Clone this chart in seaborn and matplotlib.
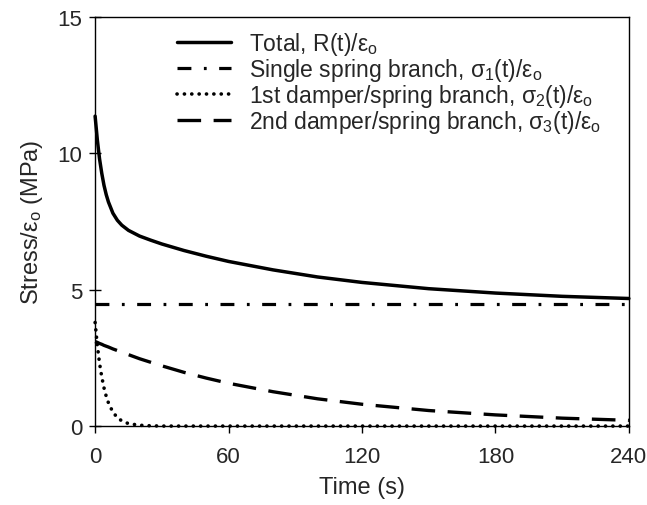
import matplotlib
matplotlib.use("Agg")
import matplotlib.pyplot as plt
import seaborn as sns
import pandas as pd

# ---- data ----
time_s = [0, 1, 2, 3, 4, 5, 6, 8, 10, 12, 15, 20, 25, 30, 40, 50, 60,
          80, 100, 120, 150, 180, 210, 240]
total = [11.37, 10.50, 9.80, 9.27, 8.83, 8.49, 8.22, 7.81, 7.55, 7.37, 7.18,
         6.97, 6.82, 6.68, 6.44, 6.23, 6.04, 5.73, 5.47, 5.27, 5.04, 4.88,
         4.76, 4.68]
spring = [4.47] * len(time_s)
damper1 = [3.80, 2.96, 2.30, 1.80, 1.40, 1.09, 0.85, 0.51, 0.31, 0.19, 0.09,
           0.03, 0.01, 0.00, 0.00, 0.00, 0.00, 0.00, 0.00, 0.00, 0.00, 0.00,
           0.00, 0.00]
damper2 = [3.10, 3.07, 3.03, 3.00, 2.96, 2.93, 2.90, 2.83, 2.77, 2.71, 2.62,
           2.47, 2.34, 2.21, 1.97, 1.76, 1.57, 1.26, 1.00, 0.80, 0.57, 0.41,
           0.29, 0.21]
labels = [
    r"Total, R(t)/$\varepsilon_\mathrm{o}$",
    r"Single spring branch, $\sigma_1$(t)/$\varepsilon_\mathrm{o}$",
    r"1st damper/spring branch, $\sigma_2$(t)/$\varepsilon_\mathrm{o}$",
    r"2nd damper/spring branch, $\sigma_3$(t)/$\varepsilon_\mathrm{o}$",
]
x_ticks = [0, 60, 120, 180, 240]
y_ticks = [0, 5, 10, 15]

sns.set_style("ticks")
plt.rcParams["font.family"] = ["Liberation Sans", "DejaVu Sans"]
plt.rcParams["mathtext.fontset"] = "custom"
plt.rcParams["mathtext.rm"] = "Liberation Sans"
plt.rcParams["mathtext.it"] = "Liberation Sans"
plt.rcParams["mathtext.sf"] = "Liberation Sans"
plt.rcParams["lines.scale_dashes"] = False

fig = plt.figure(figsize=(6.47, 5.06), dpi=100)
ax = fig.add_axes([0.147, 0.156, 0.825, 0.808])

df = pd.DataFrame({"t": time_s, "total": total, "spring": spring,
                   "d1": damper1, "d2": damper2})

styles = [
    ("total", "-", 2.5),
    ("spring", (0, (10, 9, 2, 9)), 2.3),
    ("d1", (0, (0.1, 5.2)), 2.6),
    ("d2", (0, (17, 9)), 2.4),
]
for (col, ls, lw), lab in zip(styles, labels):
    sns.lineplot(data=df, x="t", y=col, ax=ax, color="black", linewidth=lw,
                 linestyle=ls, label=lab, clip_on=False)
    ln = ax.lines[-1]
    if col == "d1":
        ln.set_dash_capstyle("round")
    else:
        ln.set_dash_capstyle("butt")

ax.set_xlim(0, 240)
ax.set_ylim(0, 15)
ax.set_xticks(x_ticks)
ax.set_yticks(y_ticks)
ax.tick_params(axis="both", labelsize=16, width=1, color="black")
ax.tick_params(axis="x", direction="out", length=5, pad=9)
ax.tick_params(axis="y", direction="inout", length=8, pad=5)
for s in ax.spines.values():
    s.set_visible(True)
    s.set_color("black")
    s.set_linewidth(1)
ax.set_xlabel("Time (s)", fontsize=17, labelpad=7)
ax.set_ylabel(r"Stress/$\varepsilon_\mathrm{o}$ (MPa)", fontsize=17, labelpad=9)
ax.grid(False)

ax.legend(loc="upper left", bbox_to_anchor=(0.154, 0.968), frameon=False,
          fontsize=16.5, handlelength=2.35, handletextpad=0.8,
          labelspacing=-0.05, borderaxespad=0.0, borderpad=0.0)

fig.savefig("out.png", dpi=100)
